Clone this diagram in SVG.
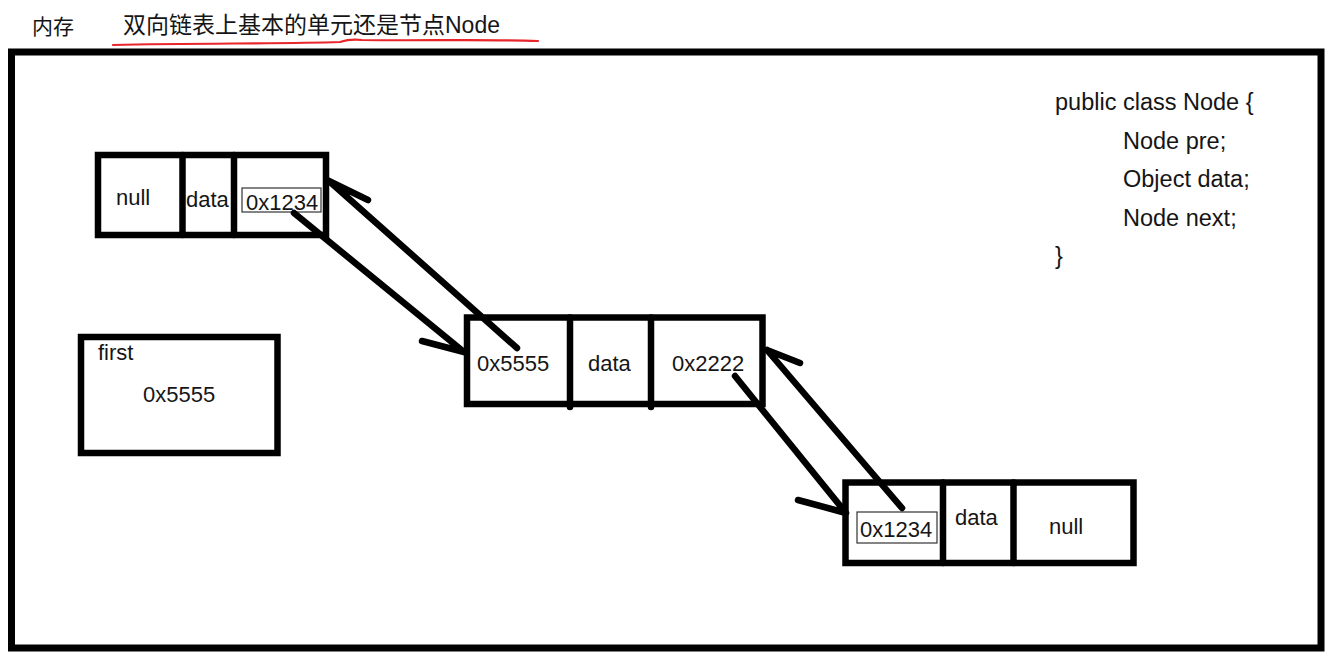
<svg xmlns="http://www.w3.org/2000/svg" width="1335" height="660" viewBox="0 0 1335 660">
<style>
  text { font-family: "Liberation Sans", "Noto Sans CJK SC", sans-serif; fill: #151515; }
  .t { font-size: 22px; }
  .code { font-size: 23.5px; }
  .box { fill: #fff; stroke: #000; stroke-width: 6.5; }
  .div { stroke: #000; stroke-width: 6.5; stroke-linecap: round; }
  .addr { fill: #fff; stroke: #333; stroke-width: 1.2; }
  .conn { fill: none; stroke: #000; stroke-width: 6.5; stroke-linecap: round; stroke-linejoin: round; }
</style>
<rect width="1335" height="660" fill="#fff"/>

<g id="header">
  <text x="32" y="34" style="font-size:21px">内存</text>
  <text x="123" y="33" style="font-size:23px">双向链表上基本的单元还是节点Node</text>
  <path d="M113,45 C200,43 280,44 340,42 C346,40 352,39 362,40 C420,41 480,39 538,41" fill="none" stroke="#e8262b" stroke-width="2.2" stroke-linecap="round"/>
</g>

<g id="frame">
  <rect x="11.5" y="52" width="1309.5" height="596" fill="none" stroke="#000" stroke-width="7"/>
</g>

<g id="node1">
  <rect class="box" x="98" y="155" width="228" height="80"/>
  <line class="div" x1="182.5" y1="155" x2="182.5" y2="235"/>
  <line class="div" x1="234" y1="155" x2="234" y2="235"/>
  <text class="t" x="116" y="205">null</text>
  <text class="t" x="186" y="207">data</text>
  <rect class="addr" x="242" y="188" width="79" height="24"/>
  <text class="t" x="246" y="210">0x1234</text>
</g>

<g id="node2">
  <rect class="box" x="467" y="317.5" width="295.5" height="86.5"/>
  <line class="div" x1="570" y1="317.5" x2="570" y2="407"/>
  <line class="div" x1="651" y1="317.5" x2="651" y2="407"/>
  <text class="t" x="477" y="371">0x5555</text>
  <text class="t" x="588" y="371">data</text>
  <text class="t" x="672" y="371">0x2222</text>
</g>

<g id="node3">
  <rect class="box" x="845.5" y="482.5" width="288" height="80.5"/>
  <line class="div" x1="943" y1="482.5" x2="943" y2="563"/>
  <line class="div" x1="1013.5" y1="482.5" x2="1013.5" y2="563"/>
  <rect class="addr" x="857" y="512" width="80" height="31"/>
  <text class="t" x="860" y="537">0x1234</text>
  <text class="t" x="955" y="525">data</text>
  <text class="t" x="1049" y="534">null</text>
</g>

<g id="first">
  <rect class="box" x="81" y="337" width="196.5" height="116"/>
  <text class="t" x="98" y="360">first</text>
  <text class="t" x="143" y="402">0x5555</text>
</g>

<g id="class-def">
  <text class="code" x="1055" y="110">public class Node {</text>
  <text class="code" x="1123" y="148.5">Node pre;</text>
  <text class="code" x="1123" y="187">Object data;</text>
  <text class="code" x="1123" y="225.5">Node next;</text>
  <text class="code" x="1055" y="264">}</text>
</g>

<g id="connectors">
  <path class="conn" d="M294,213 L464,352 M422,341 L464,352"/>
  <path class="conn" d="M517,348 L329,181 M329,181 L368,200"/>
  <path class="conn" d="M735,376 L846,513 M798,500 L846,513"/>
  <path class="conn" d="M902,508 L767,350 M767,350 L800,363"/>
</g>
</svg>
